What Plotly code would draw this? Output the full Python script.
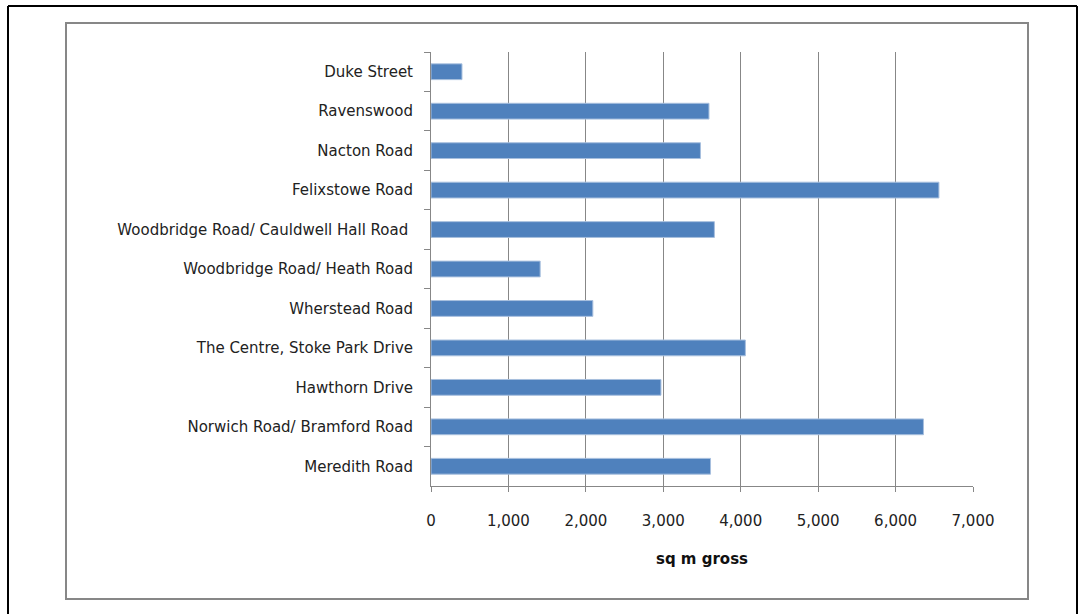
import plotly.graph_objects as go

# Sites, listed from top to bottom
sites = [
    "Duke Street",
    "Ravenswood",
    "Nacton Road",
    "Felixstowe Road",
    "Woodbridge Road/ Cauldwell Hall Road ",
    "Woodbridge Road/ Heath Road",
    "Wherstead Road",
    "The Centre, Stoke Park Drive",
    "Hawthorn Drive",
    "Norwich Road/ Bramford Road",
    "Meredith Road",
]
floorspace = [400, 3590, 3480, 6560, 3660, 1410, 2090, 4060, 2970, 6360, 3610]

x_ticks = [0, 1000, 2000, 3000, 4000, 5000, 6000, 7000]
x_tick_text = ["0", "1,000", "2,000", "3,000", "4,000", "5,000", "6,000", "7,000"]

W, H = 1082, 614
PL, PR, PT, PB = 431, 973, 52, 486  # plot area in pixels


def px_x(p):
    return (p - PL) / (PR - PL)


def px_y(p):
    return (PB - p) / (PB - PT)


GRID = "#878787"
FONT = "DejaVu Sans"

fig = go.Figure(
    go.Bar(
        x=floorspace,
        y=sites,
        orientation="h",
        marker=dict(color="#4F81BD", line=dict(color="#A7BFDE", width=1)),
    )
)

fig.update_layout(
    width=W,
    height=H,
    margin=dict(l=PL, r=W - PR, t=PT, b=H - PB),
    paper_bgcolor="white",
    plot_bgcolor="white",
    bargap=0.6,
    showlegend=False,
    font=dict(family=FONT, size=15, color="#222222"),
    xaxis=dict(
        range=[0, 7000],
        tickvals=x_ticks,
        ticktext=x_tick_text,
        showgrid=True,
        gridcolor=GRID,
        gridwidth=1,
        showline=True,
        linecolor=GRID,
        linewidth=1,
        ticks="outside",
        ticklen=5,
        tickcolor=GRID,
        ticklabelstandoff=16,
        zeroline=False,
        tickfont=dict(size=15, family=FONT),
        title=dict(
            text="<b>sq m gross</b>",
            font=dict(size=15, family=FONT, color="#111111"),
            standoff=24,
        ),
    ),
    yaxis=dict(
        type="category",
        categoryorder="array",
        categoryarray=sites,
        autorange="reversed",
        showline=True,
        linecolor=GRID,
        linewidth=1,
        ticks="outside",
        tickson="boundaries",
        ticklen=6,
        tickcolor=GRID,
        showgrid=False,
        ticklabelstandoff=14,
        tickfont=dict(size=15, family=FONT),
    ),
    shapes=[
        # outer black frame (top, left, right)
        dict(type="line", xref="paper", yref="paper",
             x0=px_x(8), x1=px_x(1077), y0=px_y(6), y1=px_y(6),
             line=dict(color="black", width=2)),
        dict(type="line", xref="paper", yref="paper",
             x0=px_x(8), x1=px_x(8), y0=px_y(6), y1=px_y(620),
             line=dict(color="black", width=2)),
        dict(type="line", xref="paper", yref="paper",
             x0=px_x(1077), x1=px_x(1077), y0=px_y(6), y1=px_y(620),
             line=dict(color="black", width=2)),
        # chart-area border
        dict(type="rect", xref="paper", yref="paper",
             x0=px_x(66), x1=px_x(1028), y0=px_y(599), y1=px_y(23),
             line=dict(color=GRID, width=2), layer="below"),
    ],
)

fig.write_html("out.html")
